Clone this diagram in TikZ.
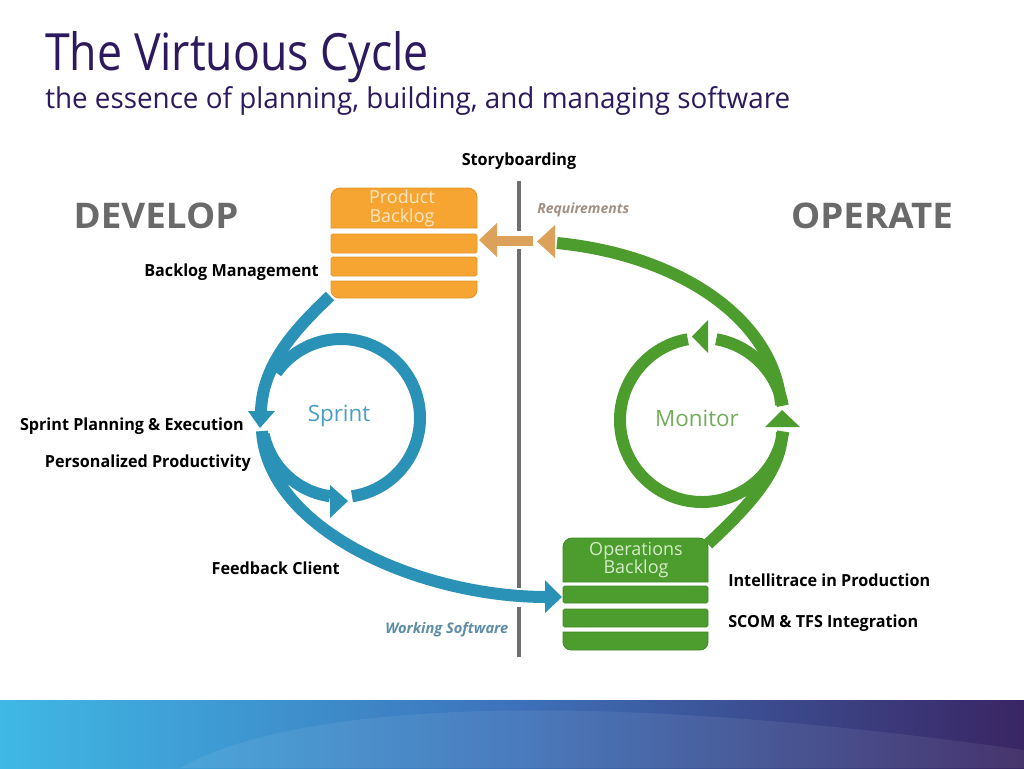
\documentclass[tikz,border=0pt]{standalone}
\usepackage{fontspec}
\setmainfont{Open Sans}
\newfontfamily\titlefont[FakeStretch=0.87]{Open Sans}
\newfontfamily\subfont[FakeStretch=0.97]{Open Sans}
\newfontfamily\labfont[FakeStretch=0.97]{Open Sans}
\newfontfamily\sidefont[FakeStretch=1.04]{Open Sans}
\definecolor{titlec}{HTML}{2D1A5E}
\definecolor{pborange}{HTML}{F6A532}
\definecolor{pbline}{HTML}{E3952A}
\definecolor{pbtext}{HTML}{FDE6C2}
\definecolor{reqc}{HTML}{DCA15A}
\definecolor{cycblue}{HTML}{2A92B6}
\definecolor{cycgreen}{HTML}{4C9C2E}
\definecolor{opline}{HTML}{3F8A24}
\definecolor{optext}{HTML}{D4ECC8}
\definecolor{divgray}{HTML}{6E6E6E}
\definecolor{sidegray}{HTML}{6A6A6A}
\definecolor{sprintc}{HTML}{4A9EC4}
\definecolor{monitorc}{HTML}{73AD5A}
\definecolor{reqtext}{HTML}{A08F84}
\definecolor{wstext}{HTML}{5E8EA6}
\definecolor{barL}{HTML}{3FB8E5}
\definecolor{barM}{HTML}{3D72BA}
\definecolor{barR}{HTML}{3A2563}
\begin{document}
\begin{tikzpicture}[x=0.75pt,y=-0.75pt,
  lbl/.style={font=\labfont\bfseries\fontsize{12.5pt}{14pt}\selectfont, inner sep=0pt, text=black},
  side/.style={font=\sidefont\bfseries\fontsize{26.5pt}{30pt}\selectfont, inner sep=0pt, text=sidegray},
  boxtext/.style={inner sep=0pt, font=\fontsize{13.5pt}{15pt}\selectfont},
  flowit/.style={inner sep=0pt, font=\itshape\bfseries\fontsize{10.5pt}{12pt}\selectfont},
  cyclbl/.style={inner sep=0pt, font=\fontsize{16.8pt}{18pt}\selectfont},
  pbbox/.style={fill=pborange, draw=pbline, line width=0.6pt},
  opbox/.style={fill=cycgreen, draw=opline, line width=0.6pt},
  bluestroke/.style={draw=cycblue, line width=9pt},
  greenstroke/.style={draw=cycgreen, line width=9pt}]
\useasboundingbox (0,0) rectangle (1024,768);
\fill[white] (0,0) rectangle (1024,768);

% bottom gradient bar
\shade[left color=barL, right color=barR, middle color=barM] (0,700) rectangle (1024,768);
\fill[white, opacity=0.07] (180,768) .. controls (300,700) and (600,690) .. (1024,750) -- (1024,768) -- cycle;

% title
\node[anchor=base west, inner sep=0pt, text=titlec, font=\titlefont\fontsize{38.5pt}{40pt}\selectfont] (title) at (45,70) {The Virtuous Cycle};
\node[anchor=base west, inner sep=0pt, text=titlec, font=\subfont\fontsize{21.5pt}{24pt}\selectfont] (subtitle) at (45,108) {the essence of planning, building, and managing software};

% side headings
\node[side, anchor=base] (develop) at (156,228) {DEVELOP};
\node[side, anchor=base] (operate) at (872,228) {OPERATE};

% divider line
\coordinate (d1) at (519,181); \coordinate (d2) at (519,231);
\coordinate (d3) at (519,249); \coordinate (d4) at (519,588);
\coordinate (d5) at (519,607); \coordinate (d6) at (519,657);
\draw[divgray, line width=3pt] (d1) -- (d2) (d3) -- (d4) (d5) -- (d6);

% product backlog
\filldraw[pbbox] (331,228) -- (331,197) arc[start angle=180,end angle=270,radius=9] -- (468,188) arc[start angle=270,end angle=360,radius=9] -- (477,228) -- cycle;
\filldraw[pbbox, rounded corners=1.2pt] (331,234) rectangle (477,253);
\filldraw[pbbox, rounded corners=1.2pt] (331,257) rectangle (477,276);
\filldraw[pbbox] (331,281) -- (477,281) -- (477,290) arc[start angle=0,end angle=90,radius=8] -- (339,298) arc[start angle=90,end angle=180,radius=8] -- cycle;
\node[boxtext, text=pbtext, anchor=base] (pb1) at (402,203) {Product};
\node[boxtext, text=pbtext, anchor=base] (pb2) at (402,222) {Backlog};

% operations backlog
\filldraw[opbox] (563,582) -- (563,547) arc[start angle=180,end angle=270,radius=9] -- (699,538) arc[start angle=270,end angle=360,radius=9] -- (708,582) -- cycle;
\filldraw[opbox, rounded corners=1.2pt] (563,586) rectangle (708,603);
\filldraw[opbox, rounded corners=1.2pt] (563,609) rectangle (708,627);
\filldraw[opbox] (563,632) -- (708,632) -- (708,642) arc[start angle=0,end angle=90,radius=8] -- (571,650) arc[start angle=90,end angle=180,radius=8] -- cycle;
\node[boxtext, text=optext, anchor=base] (ob1) at (636,555) {Operations};
\node[boxtext, text=optext, anchor=base] (ob2) at (636,573) {Backlog};

% requirements arrow
\coordinate (rqs) at (533,241); \coordinate (rqe) at (496,241);
\draw[reqc, line width=8pt] (rqs) -- (rqe);
\fill[reqc] (479,240) -- (497,223) -- (497,257) -- cycle;
\fill[reqc] (537,241.5) -- (555,225) -- (555,258) -- cycle;
\node[flowit, text=reqtext, anchor=base west] (req) at (537,213) {Requirements};

% blue cycle (develop)
\coordinate (pbout) at (330,296);
\coordinate (tl1) at (261,412);
\coordinate (tl2) at (262,431);
\coordinate (obin) at (547,597);
\draw[bluestroke] (pbout) .. controls (300,325) and (262,362) .. (tl1);
\draw[bluestroke] (tl2) .. controls (268,530) and (420,597) .. (obin);
\fill[cycblue] (248,411) -- (275,411) -- (260,428) -- cycle;
\fill[cycblue] (545,580) -- (545,613) -- (562,597) -- cycle;
\coordinate (sc) at (341,418);
\draw[bluestroke] (sc) ++(168:79) arc[start angle=168, end angle=98, radius=79];
\draw[bluestroke] (sc) ++(82:79) arc[start angle=82, end angle=-145, radius=79];
\fill[cycblue] (330,485) -- (330,518) -- (348,501) -- cycle;
\node[cyclbl, text=sprintc] (sprint) at (339,416) {Sprint};
\node[flowit, text=wstext, anchor=base west, font=\itshape\bfseries\fontsize{11pt}{12pt}\selectfont] (ws) at (385,633) {Working Software};

% green cycle (operate)
\coordinate (rqin) at (557,243);
\coordinate (mr) at (781,405);
\coordinate (mb) at (782,432);
\coordinate (obout) at (708,544);
\draw[greenstroke] (rqin) .. controls (680,255) and (775,320) .. (mr);
\draw[greenstroke] (obout) .. controls (750,505) and (782,470) .. (mb);
\fill[cycgreen] (782,410) -- (765,427) -- (800,427) -- cycle;
\coordinate (mc) at (702,420);
\draw[greenstroke] (mc) ++(-10:82) arc[start angle=-10, end angle=-80, radius=82];
\draw[greenstroke] (mc) ++(-100:82) arc[start angle=-100, end angle=-352, radius=82];
\fill[cycgreen] (692,336.5) -- (708,320) -- (708,353) -- cycle;
\node[cyclbl, text=monitorc] (monitor) at (697,418) {Monitor};

% labels
\node[lbl, anchor=base] (story) at (519,165) {Storyboarding};
\node[lbl, anchor=base east] (blm) at (319,276) {Backlog Management};
\node[lbl, anchor=base east] (spe) at (244,430) {Sprint Planning \& Execution};
\node[lbl, anchor=base east] (pp) at (251,467) {Personalized Productivity};
\node[lbl, anchor=base east] (fc) at (340,574) {Feedback Client};
\node[lbl, anchor=base west] (ip) at (728,586) {Intellitrace in Production};
\node[lbl, anchor=base west] (scom) at (728,627) {SCOM \& TFS Integration};
\end{tikzpicture}
\end{document}
